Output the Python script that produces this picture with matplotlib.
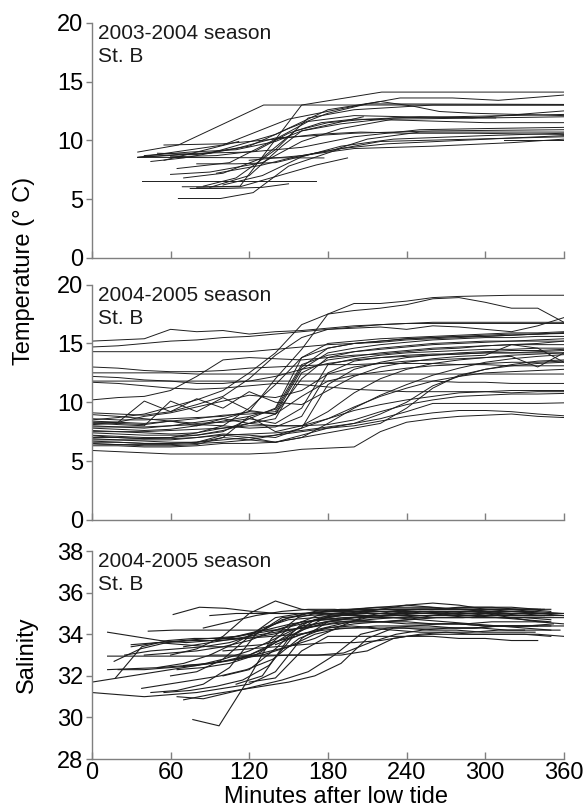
import matplotlib
matplotlib.use("Agg")
import matplotlib.pyplot as plt
import numpy as np

plt.rcParams['font.family'] = ['Liberation Sans', 'DejaVu Sans']

# ---- panel 1: 2003-2004 temperature, (minutes, deg C) pairs per record
temp03_t = [
    [35, 66, 131, 360],
    [80, 113, 160, 221, 360],
    [35, 100, 150, 200, 235, 275, 310, 360],
    [35, 90, 140, 180, 220, 245, 265, 290, 360],
    [35, 177],
    [38, 171],
    [55, 112],
    [66, 98, 123, 150, 190, 225, 360],
    [69, 113, 171, 195],
    [75, 100, 130, 150],
    [50, 80, 120, 150, 180, 210, 360],
    [45, 70, 110, 140, 170, 200, 260, 360],
    [60, 90, 130, 160, 190, 230, 300, 360],
    [70, 100, 130, 155, 180, 210, 250, 308],
    [85, 110, 140, 165, 200, 260, 360],
    [60, 95, 125, 150, 175, 200, 240, 300, 360],
    [90, 120, 145, 160, 207],
    [95, 130, 155, 185, 210, 250, 360],
    [40, 80, 120, 160, 200, 250, 300, 360],
    [55, 100, 140, 170, 205, 240, 290, 360],
    [100, 130, 160, 190, 230, 300, 360],
    [120, 160, 200, 260, 320, 360],
    [314, 360],
    [80, 110, 140, 170, 190, 220, 360],
    [65, 105, 135, 165, 200, 240, 290, 360],
    [40, 75, 110, 140, 160, 190, 230, 360],
]
temp03_v = [
    [9.0, 9.6, 13.0, 13.0],
    [6.0, 6.1, 13.0, 14.1, 14.1],
    [8.55, 9.6, 11.8, 12.9, 13.6, 13.6, 13.4, 13.85],
    [8.55, 8.9, 10.5, 12.6, 13.3, 12.9, 12.45, 12.3, 12.1],
    [8.55, 8.5],
    [6.5, 6.5],
    [8.3, 9.9],
    [5.05, 5.05, 5.55, 7.8, 9.3, 9.7, 10.4],
    [6.05, 6.05, 7.9, 8.5],
    [5.9, 5.9, 6.0, 6.3],
    [8.9, 8.8, 9.5, 11.0, 12.3, 13.1, 13.05],
    [8.2, 8.5, 9.3, 10.2, 10.4, 10.6, 10.8, 10.9],
    [7.1, 7.3, 8.1, 9.9, 11.0, 11.8, 11.9, 12.0],
    [6.8, 7.2, 8.5, 10.8, 11.5, 11.8, 12.0, 11.9],
    [6.1, 6.8, 9.2, 11.9, 12.6, 13.0, 13.0],
    [8.6, 8.7, 9.1, 10.6, 11.5, 11.8, 11.7, 11.5, 11.5],
    [6.0, 7.0, 9.5, 10.8, 12.0],
    [7.2, 7.9, 8.6, 9.2, 10.1, 10.7, 10.7],
    [8.6, 8.9, 9.0, 9.4, 10.3, 10.9, 11.0, 11.1],
    [9.6, 9.7, 10.1, 10.5, 10.7, 10.6, 10.6, 10.5],
    [6.2, 7.0, 8.6, 9.5, 10.1, 10.4, 10.6],
    [8.3, 8.7, 9.3, 9.5, 9.8, 10.1],
    [10.0, 10.0],
    [8.0, 8.0, 8.1, 8.9, 9.3, 9.9, 10.3],
    [7.6, 8.1, 9.8, 11.6, 12.1, 12.0, 11.9, 12.5],
    [8.7, 9.0, 9.2, 9.9, 10.8, 11.4, 11.9, 12.2],
]

# ---- panel 2: 2004-2005 temperature, every 20 min from 0 to 360
temp04_t = list(range(0, 361, 20))
temp04_v = [
    [15.2, 15.3, 15.4, 16.2, 16.0, 16.1, 15.8, 16.0, 16.1, 16.3, 16.5, 16.6, 16.7, 16.8, 16.8, 16.8, 16.8, 16.8, 16.8],
    [14.7, 14.8, 15.0, 15.2, 15.3, 15.5, 15.6, 15.8, 16.0, 16.2, 16.3, 16.4, 16.2, 16.5, 16.4, 16.2, 16.0, 16.5, 17.2],
    [14.3, 14.3, 14.3, 14.3, 14.3, 14.3, 14.3, 14.5, 14.7, 14.9, 15.0, 15.2, 15.4, 15.5, 15.6, 15.6, 15.7, 15.8, 15.9],
    [13.0, 12.9, 12.7, 12.6, 12.6, 12.7, 12.9, 13.0, 13.1, 13.2, 13.2, 13.3, 13.3, 13.3, 13.2, 13.2, 13.1, 13.1, 13.1],
    [12.5, 12.5, 12.5, 12.5, 12.4, 12.4, 12.4, 12.4, 12.4, 12.4, 12.4, 12.4, 12.4, 12.4, 12.4, 12.4, 12.4, 12.4, 12.4],
    [12.2, 12.1, 11.9, 11.8, 11.6, 11.6, 11.8, 12.2, 12.8, 13.3, 13.6, 13.8, 13.9, 14.0, 14.1, 14.2, 14.2, 14.3, 14.4],
    [11.8, 11.8, 11.8, 11.8, 11.8, 11.8, 11.8, 11.8, 11.8, 11.8, 11.8, 11.8, 11.8, 11.8, 11.7, 11.7, 11.6, 11.6, 11.6],
    [11.7, 11.6, 11.4, 11.2, 11.1, 11.2, 11.4, 11.6, 11.5, 11.3, 11.1, 11.0, 10.9, 10.9, 10.9, 10.9, 10.8, 10.9, 10.9],
    [10.2, 10.4, 10.5, 11.0, 12.2, 13.6, 13.8, 13.7, 13.6, 13.8, 14.0, 14.1, 14.3, 14.5, 14.6, 14.8, 14.9, 15.0, 15.2],
    [8.1, 8.2, 8.1, 8.4, 8.0, 8.6, 9.2, 12.0, 14.5, 17.5, 18.4, 18.4, 18.6, 18.9, 19.0, 19.05, 19.1, 19.1, 19.1],
    [8.5, 8.7, 9.0, 9.6, 10.2, 11.0, 12.5, 14.2, 16.6, 17.5, 17.8, 18.0, 18.3, 18.8, 18.9, 18.5, 18.0, 18.0, 16.8],
    [9.1, 9.0, 8.9, 9.2, 9.8, 10.5, 12.0, 14.0, 15.5, 16.2, 16.4, 16.6, 16.7, 16.7, 16.7, 16.7, 16.7, 16.7, 16.7],
    [8.95, 8.8, 8.6, 8.4, 8.2, 8.3, 8.6, 9.5, 13.8, 15.0, 15.2, 15.4, 15.5, 15.6, 15.7, 15.8, 15.9, 15.9, 16.0],
    [8.4, 8.3, 8.2, 8.4, 8.6, 8.9, 9.0, 9.2, 13.0, 14.6, 15.0, 15.2, 15.4, 15.5, 15.6, 15.7, 15.8, 15.8, 15.85],
    [8.25, 8.1, 8.0, 10.1, 9.2, 10.4, 9.3, 9.0, 12.8, 14.2, 14.6, 14.9, 15.1, 15.3, 15.4, 15.5, 15.5, 15.6, 15.6],
    [7.8, 7.7, 7.6, 7.7, 8.0, 8.4, 8.8, 9.4, 13.2, 14.0, 14.3, 14.6, 14.8, 15.0, 15.1, 15.2, 15.2, 15.2, 15.2],
    [7.6, 7.5, 7.4, 7.3, 7.4, 7.8, 8.2, 8.6, 12.5, 13.6, 13.9, 14.2, 14.4, 14.6, 14.7, 14.8, 14.9, 14.9, 14.9],
    [7.4, 7.3, 7.2, 7.2, 7.2, 7.5, 8.6, 8.2, 9.5, 13.2, 13.7, 14.0, 14.2, 14.3, 14.4, 14.5, 14.5, 14.6, 14.6],
    [7.15, 7.0, 6.9, 6.9, 7.0, 7.3, 7.2, 7.0, 7.8, 11.5, 12.8, 13.4, 13.8, 14.0, 14.2, 14.3, 14.4, 14.4, 14.5],
    [6.9, 6.8, 6.7, 6.6, 6.6, 7.0, 8.8, 7.5, 8.0, 9.2, 10.8, 12.0, 12.8, 13.3, 13.6, 13.8, 14.0, 14.1, 14.2],
    [6.7, 6.6, 6.5, 6.5, 6.6, 7.2, 7.0, 6.6, 7.0, 8.2, 9.5, 10.6, 11.5, 12.3, 12.9, 13.4, 13.7, 13.9, 14.05],
    [6.45, 6.4, 6.3, 6.3, 6.4, 7.0, 6.8, 6.6, 7.2, 7.8, 8.2, 9.0, 10.0, 11.4, 12.2, 12.8, 13.2, 13.5, 13.6],
    [6.3, 6.3, 6.2, 6.2, 6.3, 6.5, 6.5, 6.6, 7.0, 7.4, 7.8, 8.2, 9.5, 11.2, 12.3, 12.8, 13.1, 13.3, 13.4],
    [8.0, 7.9, 7.8, 8.0, 8.3, 8.6, 8.2, 8.0, 8.0, 8.6, 9.6, 10.5, 11.2, 11.8, 12.2, 12.5, 12.6, 12.7, 12.8],
    [7.5, 7.5, 7.5, 7.6, 7.7, 7.8, 8.0, 8.0, 8.0, 8.1, 8.5, 9.2, 9.8, 10.2, 10.5, 10.6, 10.7, 10.7, 10.75],
    [6.8, 6.8, 6.8, 6.8, 7.0, 7.2, 7.3, 7.4, 7.6, 7.9, 8.2, 8.6, 9.2, 9.9, 9.9, 9.9, 9.9, 9.9, 9.95],
    [6.6, 6.6, 6.5, 6.5, 6.6, 6.8, 7.0, 7.2, 7.5, 7.8, 8.0, 8.4, 8.8, 9.1, 9.3, 9.3, 9.2, 9.0, 8.85],
    [5.9, 5.8, 5.7, 5.6, 5.6, 5.6, 5.6, 5.7, 6.0, 6.1, 6.2, 7.5, 8.3, 8.6, 8.8, 8.9, 9.0, 8.8, 8.7],
    [8.3, 8.3, 10.1, 9.2, 10.3, 9.5, 10.9, 10.0, 9.8, 11.0, 12.2, 13.0, 13.4, 13.7, 13.9, 14.0, 14.9, 14.6, 13.4],
    [8.2, 8.3, 8.8, 9.1, 9.6, 10.1, 10.6, 10.4, 11.0, 12.4, 13.0, 13.3, 13.5, 13.6, 13.7, 13.8, 13.9, 13.0, 14.2],
    [7.0, 7.0, 6.9, 7.0, 7.4, 8.0, 9.5, 11.5, 13.8, 14.6, 15.0, 15.1, 15.3, 15.4, 15.5, 15.6, 15.7, 15.8, 15.9],
    [8.6, 8.5, 8.5, 8.6, 8.7, 8.8, 9.2, 9.0, 12.0, 13.8, 14.3, 14.5, 14.7, 14.9, 15.0, 15.1, 15.2, 15.3, 15.4],
    [7.9, 7.9, 7.9, 8.0, 8.1, 8.0, 7.8, 7.9, 8.8, 12.5, 13.5, 13.8, 14.0, 14.1, 14.1, 14.2, 14.2, 14.2, 14.2],
    [7.2, 7.1, 7.0, 7.0, 7.2, 7.6, 8.2, 9.0, 10.5, 11.8, 12.3, 12.6, 12.9, 13.1, 13.2, 13.3, 13.4, 13.4, 13.5],
    [6.5, 6.4, 6.4, 6.4, 6.5, 6.6, 6.8, 7.2, 7.8, 8.6, 9.3, 9.8, 10.2, 10.5, 10.8, 10.9, 11.0, 11.0, 11.0],
]

# ---- panel 3: 2004-2005 salinity, start minute and readings every 20 min
sal_start = [0, 0, 12, 12, 12, 18, 17, 38, 43, 62, 77, 60, 45, 55, 65, 70, 60, 65,
             50, 70, 90, 100, 30, 25, 85, 90, 100, 110, 110, 120, 40, 20, 140, 70, 100, 30]
sal_v = [
    [31.7, 31.9, 32.1, 32.3, 32.5, 32.8, 33.2, 33.8, 34.4, 34.6, 34.6, 34.6, 34.5, 34.5, 34.5, 34.4, 34.4, 34.4, 34.4],
    [31.2, 31.1, 31.0, 31.1, 31.2, 31.4, 31.6, 32.2, 33.8, 34.6, 34.8, 34.8, 34.8, 34.8, 34.8, 34.8, 34.8, 34.8, 34.8],
    [34.1, 33.9, 33.7, 33.6, 33.7, 33.9, 34.2, 34.5, 34.7, 34.8, 34.8, 34.8, 34.9, 34.9, 34.9, 34.9, 34.9, 34.9],
    [32.95, 32.95, 32.95, 32.95, 32.95, 32.95, 32.95, 33.0, 33.0, 33.1, 33.6, 34.0, 34.2, 34.3, 34.3, 34.4, 34.4, 34.5],
    [32.3, 32.35, 32.4, 32.5, 32.6, 32.8, 33.3, 34.4, 34.9, 35.0, 35.0, 35.0, 35.0, 35.1, 35.1, 35.0, 35.0, 35.0],
    [31.9, 33.4, 33.7, 33.8, 33.8, 33.8, 34.0, 34.3, 34.6, 34.8, 34.9, 35.0, 35.1, 35.1, 35.1, 35.1, 35.1, 35.0],
    [32.7, 33.3, 33.6, 33.7, 33.7, 33.8, 33.9, 34.0, 34.2, 34.3, 34.4, 34.4, 34.4, 34.3, 34.3, 34.2, 34.2, 34.2],
    [31.4, 31.6, 31.8, 32.0, 32.3, 32.8, 33.8, 34.3, 34.4, 34.3, 34.3, 34.2, 34.2, 34.1, 34.1, 34.1],
    [34.15, 34.2, 34.2, 34.2, 34.2, 34.2, 34.3, 34.5, 34.6, 34.6, 34.7, 34.8, 34.8, 34.9, 34.9, 34.9],
    [34.95, 35.3, 35.25, 35.1, 35.0, 35.0, 35.0, 35.1, 35.2, 35.2, 35.2, 35.2, 35.2, 35.2, 35.2],
    [29.9, 29.6, 31.6, 33.8, 34.8, 35.1, 35.2, 35.3, 35.3, 35.3, 35.2, 35.2, 35.2, 35.1],
    [33.0, 33.3, 33.9, 35.0, 35.6, 35.2, 35.1, 35.2, 35.3, 35.4, 35.3, 35.2, 35.1, 35.0, 35.0, 34.9],
    [31.2, 31.3, 31.6, 32.4, 34.0, 34.8, 34.9, 35.0, 35.0, 35.0, 35.0, 35.0, 35.0, 34.9, 34.9, 34.9],
    [31.2, 31.3, 31.5, 31.8, 32.5, 34.0, 34.7, 34.8, 34.9, 34.9, 34.9, 35.0, 35.0, 35.0, 35.0, 35.0],
    [31.0, 30.9, 31.2, 31.5, 31.8, 32.2, 33.0, 34.0, 34.3, 34.4, 34.5, 34.5, 34.6, 34.6, 34.6],
    [30.85, 31.1, 31.3, 31.5, 31.7, 32.0, 32.6, 33.8, 34.3, 34.3, 34.3, 34.3, 34.4, 34.4, 34.4],
    [32.0, 32.2, 32.8, 33.9, 34.8, 35.0, 35.1, 35.1, 35.2, 35.2, 35.2, 35.3, 35.3, 35.3, 35.2],
    [32.3, 32.4, 32.6, 33.0, 33.8, 34.6, 34.9, 35.0, 35.0, 35.1, 35.1, 35.1, 35.0, 35.0, 34.9],
    [32.4, 32.6, 33.0, 33.6, 34.3, 34.7, 34.8, 34.9, 34.9, 34.9, 34.9, 34.9, 34.8, 34.8, 34.8, 34.7],
    [32.5, 32.6, 32.8, 33.1, 33.4, 33.8, 34.4, 34.9, 35.1, 35.2, 35.2, 35.2, 35.2, 35.2, 35.2],
    [33.0, 33.0, 33.0, 33.0, 33.0, 33.0, 33.2, 33.8, 34.0, 34.1, 34.1, 34.2, 34.2],
    [33.2, 33.3, 33.4, 33.5, 33.6, 33.6, 33.7, 33.9, 34.0, 34.0, 34.0, 34.0, 34.0, 33.9],
    [33.4, 33.6, 33.7, 33.8, 33.9, 34.2, 34.8, 35.1, 35.2, 35.2, 35.2, 35.2, 35.2, 35.2, 35.2, 35.2, 35.1],
    [33.0, 33.2, 33.3, 33.4, 33.6, 34.0, 34.7, 35.0, 35.1, 35.2, 35.2, 35.2, 35.2, 35.2, 35.1, 35.1, 35.0],
    [34.3, 34.6, 34.9, 35.1, 35.2, 35.2, 35.1, 35.1, 35.2, 35.2, 35.3, 35.3, 35.2, 35.2],
    [34.9, 35.0, 35.0, 35.0, 35.0, 35.0, 35.1, 35.1, 35.1, 35.0, 35.0, 35.0, 35.0, 35.0],
    [32.0, 32.3, 33.3, 34.5, 34.9, 35.0, 35.1, 35.1, 35.1, 35.0, 35.0, 34.9, 34.9, 34.9],
    [31.6, 32.0, 33.8, 34.7, 34.9, 35.0, 35.0, 35.1, 35.1, 35.0, 35.0, 34.9, 34.9],
    [32.8, 33.0, 33.4, 34.0, 34.3, 34.3, 34.2, 34.1, 34.1, 34.0, 34.0, 34.0, 33.9],
    [31.7, 31.9, 33.2, 33.9, 33.9, 33.9, 33.9, 33.9, 33.8, 33.8, 33.7, 33.7],
    [33.0, 33.1, 33.2, 33.4, 33.7, 34.2, 34.6, 34.7, 34.7, 34.6, 34.6, 34.5, 34.5, 34.4, 34.4, 34.4],
    [32.3, 32.3, 32.4, 32.5, 32.7, 33.0, 33.6, 34.2, 34.6, 34.8, 34.9, 35.0, 35.0, 35.0, 35.0, 35.0, 35.0, 35.0],
    [33.5, 34.0, 34.3, 34.5, 34.6, 34.7, 34.9, 35.0, 35.0, 34.8, 34.6, 34.5],
    [33.4, 33.6, 33.8, 34.0, 34.2, 34.4, 34.6, 34.7, 34.8, 34.7, 34.6, 34.5, 34.4, 34.3, 34.2],
    [33.8, 34.0, 34.2, 34.5, 34.8, 35.0, 35.2, 35.4, 35.5, 35.4, 35.2, 35.1, 35.0, 35.0],
    [33.5, 33.6, 33.5, 33.4, 33.4, 33.5, 33.8, 34.2, 34.5, 34.8, 34.9, 35.0, 35.0, 34.9, 34.8, 34.7, 34.6],
]

line_col = '#1e1e1e'
axis_col = '#7f7f7f'

fig = plt.figure(figsize=(5.85, 8.11), dpi=100)
ax1 = fig.add_axes([0.157, 0.682, 0.807, 0.290])
ax2 = fig.add_axes([0.157, 0.359, 0.807, 0.290])
ax3 = fig.add_axes([0.157, 0.064, 0.807, 0.2565])

for tt, vv in zip(temp03_t, temp03_v):
    ax1.plot(tt, vv, color=line_col, lw=0.7)
for vv in temp04_v:
    ax2.plot(temp04_t, vv, color=line_col, lw=0.7)
for t0, vv in zip(sal_start, sal_v):
    tt = t0 + 20 * np.arange(len(vv))
    ax3.plot(tt, vv, color=line_col, lw=0.8)

for ax in (ax1, ax2, ax3):
    ax.set_xlim(0, 360)
    ax.set_xticks(range(0, 361, 60))
    for s in ('top', 'right'):
        ax.spines[s].set_visible(False)
    for s in ('left', 'bottom'):
        ax.spines[s].set_color(axis_col)
        ax.spines[s].set_linewidth(1.0)
    ax.tick_params(axis='y', direction='out', length=4, width=1, color=axis_col,
                   labelsize=17, pad=2)
    ax.tick_params(axis='x', direction='in', length=5, width=1, color=axis_col,
                   labelsize=17, pad=2)

for ax, label in ((ax1, '2003-2004 season\nSt. B'), (ax2, '2004-2005 season\nSt. B'),
                  (ax3, '2004-2005 season\nSt. B')):
    ax.text(0.014, 0.995, label, transform=ax.transAxes, ha='left', va='top',
            fontsize=15, linespacing=1.25, color='#1a1a1a')

for ax in (ax1, ax2):
    ax.set_ylim(0, 20)
    ax.set_yticks(range(0, 21, 5))
    ax.set_xticklabels([])

ax3.set_ylim(28, 38)
ax3.set_yticks(range(28, 39, 2))
ax3.set_ylabel('Salinity', fontsize=17)
ax3.yaxis.set_label_coords(-0.115, 0.5)

fig.text(0.041, 1 - 271 / 811, 'Temperature (° C)', rotation=90, ha='center',
         va='center', fontsize=17)
fig.text(0.575, 1 - 797 / 811, 'Minutes after low tide', ha='center', va='center',
         fontsize=17)

fig.savefig('out.png', dpi=100)
